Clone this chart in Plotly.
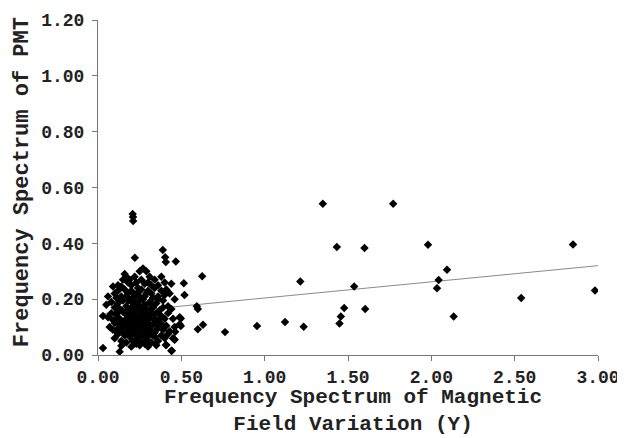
import plotly.graph_objects as go

# Dense cluster (x, y)
cluster = [
    (0.16,0.29),(0.17,0.28),(0.19,0.27),(0.25,0.30),(0.27,0.31),(0.29,0.30),(0.31,0.28),(0.22,0.28),(0.38,0.28),
    (0.09,0.245),(0.14,0.245),(0.12,0.25),(0.18,0.26),(0.20,0.25),(0.23,0.26),(0.26,0.27),(0.28,0.255),(0.30,0.26),
    (0.32,0.25),(0.34,0.27),(0.36,0.25),(0.40,0.26),(0.44,0.255),(0.24,0.24),(0.15,0.27),
    (0.06,0.21),(0.10,0.22),(0.12,0.23),(0.14,0.21),(0.16,0.235),(0.18,0.22),(0.20,0.23),(0.22,0.21),(0.24,0.225),
    (0.26,0.235),(0.28,0.21),(0.30,0.23),(0.32,0.22),(0.34,0.24),(0.36,0.21),(0.38,0.23),(0.40,0.215),(0.43,0.22),
    (0.46,0.20),(0.11,0.205),(0.19,0.20),(0.27,0.20),(0.33,0.205),(0.41,0.235),
    (0.05,0.18),(0.08,0.19),(0.10,0.17),(0.12,0.185),(0.13,0.165),(0.15,0.195),(0.17,0.175),(0.19,0.16),(0.21,0.185),
    (0.23,0.17),(0.25,0.195),(0.27,0.175),(0.29,0.165),(0.31,0.19),(0.33,0.17),(0.35,0.185),(0.37,0.16),(0.39,0.195),
    (0.42,0.175),(0.44,0.165),(0.14,0.16),(0.22,0.16),(0.30,0.16),(0.36,0.20),(0.18,0.195),(0.26,0.16),
    (0.03,0.14),(0.06,0.135),(0.08,0.15),(0.09,0.125),(0.11,0.145),(0.13,0.13),(0.15,0.155),(0.16,0.12),(0.18,0.14),
    (0.20,0.125),(0.21,0.155),(0.23,0.135),(0.25,0.15),(0.26,0.12),(0.28,0.14),(0.30,0.125),(0.31,0.155),(0.33,0.135),
    (0.35,0.15),(0.36,0.12),(0.38,0.14),(0.40,0.13),(0.42,0.15),(0.45,0.13),(0.49,0.135),(0.12,0.155),(0.17,0.13),
    (0.24,0.125),(0.27,0.155),(0.34,0.125),(0.19,0.15),(0.29,0.13),
    (0.07,0.10),(0.09,0.09),(0.10,0.115),(0.12,0.095),(0.13,0.11),(0.15,0.085),(0.16,0.105),(0.18,0.09),(0.19,0.115),
    (0.21,0.10),(0.22,0.08),(0.24,0.11),(0.25,0.09),(0.27,0.105),(0.28,0.085),(0.30,0.115),(0.31,0.095),(0.33,0.11),
    (0.34,0.08),(0.36,0.10),(0.37,0.115),(0.39,0.09),(0.41,0.105),(0.43,0.085),(0.46,0.10),(0.49,0.11),(0.14,0.12),
    (0.20,0.085),(0.26,0.115),(0.32,0.085),(0.38,0.11),(0.11,0.085),
    (0.10,0.06),(0.12,0.075),(0.14,0.05),(0.16,0.07),(0.17,0.045),(0.19,0.065),(0.21,0.05),(0.22,0.075),(0.24,0.06),
    (0.26,0.045),(0.27,0.07),(0.29,0.055),(0.31,0.075),(0.32,0.045),(0.34,0.065),(0.36,0.05),(0.38,0.07),(0.40,0.06),
    (0.42,0.075),(0.45,0.06),(0.18,0.075),(0.28,0.04),(0.23,0.04),(0.33,0.07),
    (0.03,0.025),(0.13,0.012),(0.14,0.033),(0.20,0.03),(0.25,0.035),(0.30,0.03),(0.35,0.035),(0.41,0.036),(0.44,0.015),(0.46,0.055),
    (0.17,0.21),(0.21,0.22),(0.25,0.21),(0.29,0.22),(0.23,0.19),(0.28,0.18),(0.32,0.18),(0.20,0.17),(0.16,0.15),
    (0.22,0.14),(0.26,0.135),(0.30,0.145),(0.34,0.145),(0.18,0.11),(0.23,0.10),(0.29,0.10),(0.35,0.09),(0.20,0.14),
    (0.24,0.18),(0.27,0.12),(0.31,0.11),(0.15,0.10),(0.19,0.08),(0.25,0.07),(0.30,0.065),(0.35,0.11),(0.37,0.13),
    (0.13,0.20),(0.17,0.155),(0.21,0.12),(0.25,0.13),(0.28,0.16),(0.32,0.14),(0.39,0.17),(0.11,0.13),(0.24,0.08),
]

# Sparse points away from the cluster
outliers = [
    (0.208,0.505),(0.21,0.494),(0.211,0.48),(0.221,0.348),(0.389,0.376),(0.403,0.35),(0.407,0.333),(0.467,0.335),
    (0.515,0.257),(0.519,0.215),(0.625,0.282),(0.593,0.175),(0.599,0.165),(0.63,0.108),(0.599,0.092),(0.762,0.082),
    (0.497,0.104),(0.497,0.131),(0.463,0.083),(0.458,0.056),(0.443,0.015),(0.407,0.036),
    (0.954,0.104),(1.122,0.118),(1.214,0.263),(1.234,0.101),(1.349,0.542),(1.433,0.387),(1.449,0.113),(1.457,0.138),
    (1.477,0.168),(1.537,0.245),(1.599,0.383),(1.603,0.165),(1.771,0.542),(1.98,0.395),(2.034,0.239),(2.044,0.269),
    (2.094,0.305),(2.134,0.138),(2.539,0.204),(2.85,0.396),(2.982,0.231),
]

x_vals = [p[0] for p in cluster] + [p[0] for p in outliers]
y_vals = [p[1] for p in cluster] + [p[1] for p in outliers]

# Trend line endpoints
trend_x = [0.03, 3.0]
trend_y = [0.148, 0.320]

x_ticks = [0, 0.5, 1.0, 1.5, 2.0, 2.5, 3.0]
y_ticks = [0, 0.2, 0.4, 0.6, 0.8, 1.0, 1.2]

x_title = "Frequency Spectrum of Magnetic<br>Field Variation (Y)"
y_title = "Frequency Spectrum of PMT"

font_family = "Liberation Mono, Courier New, monospace"

fig = go.Figure()
fig.add_trace(go.Scatter(x=trend_x, y=trend_y, mode="lines",
                         line=dict(color="#8a8a8a", width=1), hoverinfo="skip"))
fig.add_trace(go.Scatter(x=x_vals, y=y_vals, mode="markers",
                         marker=dict(symbol="diamond", size=6.5, color="black",
                                     line=dict(width=0))))

fig.update_layout(
    width=617, height=430,
    margin=dict(l=90, r=27, t=12, b=83),
    paper_bgcolor="white", plot_bgcolor="white",
    showlegend=False,
    font=dict(family=font_family, color="#222", size=18),
)
fig.update_xaxes(
    range=[0, 3.0], tickvals=x_ticks, ticktext=[f"{v:.2f}" for v in x_ticks],
    automargin=False,
    showgrid=False, zeroline=False, showline=True, linecolor="#777", linewidth=1,
    ticks="outside", ticklen=5, tickcolor="#777",
    tickfont=dict(family=font_family, size=18, color="#222", weight="bold"),
)
fig.update_yaxes(
    range=[0, 1.2], tickvals=y_ticks, ticktext=[f"{v:.2f}" for v in y_ticks],
    automargin=False,
    showgrid=False, zeroline=False, showline=True, linecolor="#777", linewidth=1,
    ticks="outside", ticklen=5, tickcolor="#777", ticklabelstandoff=4,
    tickfont=dict(family=font_family, size=18, color="#222", weight="bold"),
)

fig.add_annotation(text=x_title, xref="paper", yref="paper", x=0.51, y=0,
                   xanchor="center", yanchor="top", yshift=-30, showarrow=False,
                   align="center", borderpad=0,
                   font=dict(family=font_family, size=21, color="#222", weight="bold"))
fig.add_annotation(text=y_title, xref="paper", yref="paper", x=-0.152, y=0.516,
                   xanchor="center", yanchor="middle", textangle=-90, showarrow=False,
                   font=dict(family=font_family, size=22, color="#222", weight="bold"))

fig.write_html("out.html")
